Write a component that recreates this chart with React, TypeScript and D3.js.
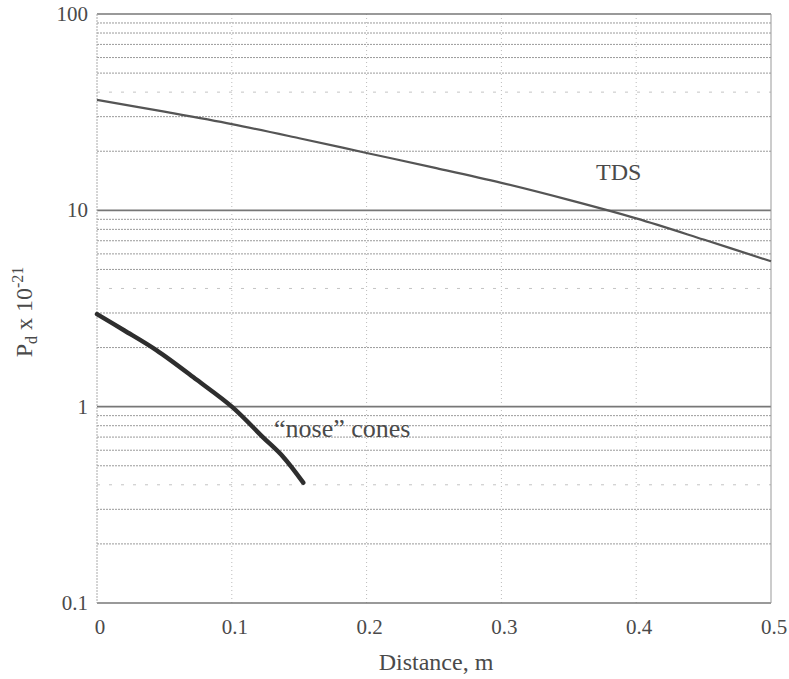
import React from "react";
import * as d3 from "d3";

const W = 789;
const H = 679;

const xTicks = [0, 0.1, 0.2, 0.3, 0.4, 0.5];
const yMajor = [0.1, 1, 10, 100];
const yTickLabels = ["0.1", "1", "10", "100"];

const tdsX = [0, 0.05, 0.1, 0.15, 0.2, 0.25, 0.3, 0.35, 0.4, 0.45, 0.5];
const tdsY = [36.5, 31.8, 27.5, 23.3, 19.6, 16.5, 13.8, 11.3, 9.1, 7.1, 5.5];

const noseX = [0, 0.02, 0.044, 0.074, 0.1, 0.123, 0.138, 0.153];
const noseY = [2.96, 2.45, 1.94, 1.37, 1.0, 0.7, 0.556, 0.41];

const margin = { left: 97, right: 18, top: 14, bottom: 76 };

export default function App() {
  const x = d3.scaleLinear().domain([0, 0.5]).range([margin.left, W - margin.right]);
  const y = d3.scaleLog().domain([0.1, 100]).range([H - margin.bottom, margin.top]);

  const minors: number[] = [];
  [0.1, 1, 10].forEach((d) => {
    for (let k = 2; k <= 9; k++) minors.push(d * k);
  });

  const line = d3
    .line<[number, number]>()
    .x((d) => x(d[0]))
    .y((d) => y(d[1]))
    .curve(d3.curveCatmullRom.alpha(0.5));

  const tdsData = tdsX.map((v, i) => [v, tdsY[i]] as [number, number]);
  const noseData = noseX.map((v, i) => [v, noseY[i]] as [number, number]);

  const font = "'Liberation Serif', 'DejaVu Serif', serif";
  const textColor = "#4a4a4a";
  const x0 = x(0);
  const x1 = x(0.5);

  return (
    <svg
      width={W}
      height={H}
      style={{ position: "absolute", left: 0, top: 0, background: "#fff" }}
      fontFamily={font}
    >
      {/* vertical grid */}
      {xTicks.slice(1, -1).map((t) => (
        <line
          key={"vx" + t}
          x1={x(t)}
          x2={x(t)}
          y1={y(100)}
          y2={y(0.1)}
          stroke="#bbb"
          strokeWidth={1}
          strokeDasharray="1,3"
        />
      ))}
      {/* minor horizontal grid */}
      {minors.map((m) => {
        const k = Math.round(m / Math.pow(10, Math.floor(Math.log10(m) + 1e-9)));
        const sparse = k === 4;
        return (
          <line
            key={"m" + m}
            x1={x0}
            x2={x1}
            y1={y(m)}
            y2={y(m)}
            stroke={sparse ? "#c4c4c4" : "#9a9a9a"}
            strokeWidth={1}
            strokeDasharray={sparse ? "3,9" : "2,1"}
          />
        );
      })}
      {/* major horizontal grid */}
      {yMajor.map((m) => (
        <line
          key={"M" + m}
          x1={x0}
          x2={x1}
          y1={y(m)}
          y2={y(m)}
          stroke="#777"
          strokeWidth={1.6}
        />
      ))}
      {/* left and right borders */}
      <line x1={x0} x2={x0} y1={y(100)} y2={y(0.1)} stroke="#aaa" strokeWidth={1} strokeDasharray="2,1" />
      <line x1={x1} x2={x1} y1={y(100)} y2={y(0.1)} stroke="#999" strokeWidth={1} />

      {/* curves */}
      <path d={line(tdsData) || ""} fill="none" stroke="#555" strokeWidth={2.2} />
      <path d={line(noseData) || ""} fill="none" stroke="#2e2e2e" strokeWidth={4.5} strokeLinecap="round" />

      {/* y tick labels */}
      {yMajor.map((m, i) => (
        <text
          key={"yl" + m}
          x={88}
          y={y(m) + 7}
          textAnchor="end"
          fontSize={21}
          fill={textColor}
        >
          {yTickLabels[i]}
        </text>
      ))}
      {/* x tick labels */}
      {xTicks.map((t) => (
        <text
          key={"xl" + t}
          x={x(t) + 3}
          y={y(0.1) + 31}
          textAnchor="middle"
          fontSize={21}
          fill={textColor}
        >
          {String(t)}
        </text>
      ))}
      {/* axis titles */}
      <text x={436} y={670} textAnchor="middle" fontSize={24} fill={textColor}>
        Distance, m
      </text>
      <text
        transform={`translate(32, 312) rotate(-90)`}
        textAnchor="middle"
        fontSize={24}
        fill={textColor}
      >
        <tspan>P</tspan>
        <tspan fontSize={16} dy={5}>d</tspan>
        <tspan dy={-5}> x 10</tspan>
        <tspan fontSize={16} dy={-9}>-21</tspan>
      </text>

      {/* annotations */}
      <text x={596} y={180} fontSize={24} fill={textColor}>
        TDS
      </text>
      <text x={274} y={437} fontSize={26} fill={textColor}>
        “nose” cones
      </text>
    </svg>
  );
}
